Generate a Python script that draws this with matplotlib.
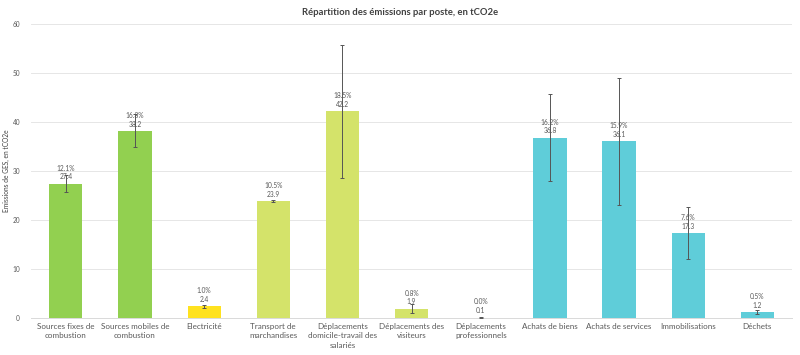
import numpy as np
import matplotlib.pyplot as plt

# Données
postes = ["Sources fixes de\ncombustion", "Sources mobiles de\ncombustion", "Electricité",
          "Transport de\nmarchandises", "Déplacements\ndomicile-travail des\nsalariés",
          "Déplacements des\nvisiteurs", "Déplacements\nprofessionnels", "Achats de biens",
          "Achats de services", "Immobilisations", "Déchets"]
emissions = [27.4, 38.2, 2.4, 23.9, 42.2, 1.9, 0.1, 36.8, 36.1, 17.3, 1.2]
parts = ["12.1%", "16.8%", "1.0%", "10.5%", "18.5%", "0.8%", "0.0%", "16.2%", "15.9%", "7.6%", "0.5%"]
err_bas = [1.7, 3.2, 0.3, 0.2, 13.6, 0.9, 0.1, 8.8, 13.0, 5.3, 0.4]
err_haut = [1.8, 3.5, 0.3, 0.2, 13.5, 1.0, 0.1, 8.9, 12.9, 5.3, 0.4]
couleurs = ["#92D050", "#92D050", "#FFE21F", "#D4E36A", "#D4E36A", "#D4E36A", "#D4E36A",
            "#5FCDD9", "#5FCDD9", "#5FCDD9", "#5FCDD9"]

plt.rcParams['font.family'] = ['Lato', 'DejaVu Sans']

fig = plt.figure(figsize=(8, 3.55), dpi=100)
ax = fig.add_axes([0.039, 0.104, 0.951, 0.828])

x = np.arange(len(postes))
ax.bar(x, emissions, width=0.48, color=couleurs, zorder=2)
ax.errorbar(x, emissions, yerr=[err_bas, err_haut], fmt="none", ecolor="#555555",
            elinewidth=0.7, capsize=1.5, capthick=0.7, zorder=3)

for xi, v, p in zip(x, emissions, parts):
    ax.text(xi, v + 0.7, f"{p}\n{v}", ha="center", va="bottom", fontsize=4.8,
            color="#595959", linespacing=1.3, zorder=4)

ax.set_xlim(-0.5, len(postes) - 0.5)
ax.set_ylim(0, 60)
ax.set_yticks(range(0, 61, 10))
ax.set_xticks(x)
ax.set_xticklabels(postes, fontsize=5.8, color="#595959", linespacing=1.4)
ax.tick_params(axis="y", labelsize=4.7, labelcolor="#595959", length=0, pad=8)
ax.tick_params(axis="x", length=0, pad=3.5)
ax.grid(axis="y", color="#E6E6E6", linewidth=0.7, zorder=0)
for s in ["top", "right", "left"]:
    ax.spines[s].set_visible(False)
ax.spines["bottom"].set_color("#D9D9D9")
ax.spines["bottom"].set_linewidth(0.7)

ax.set_ylabel("Emissions de GES, en tCO2e", fontsize=4.8, color="#404040")
ax.yaxis.set_label_coords(-0.028, 0.5)
fig.text(0.5, 0.965, "Répartition des émissions par poste, en tCO2e", ha="center", va="center",
         fontsize=6.8, fontweight="bold", color="#404040")

fig.savefig("out.png", dpi=100)
